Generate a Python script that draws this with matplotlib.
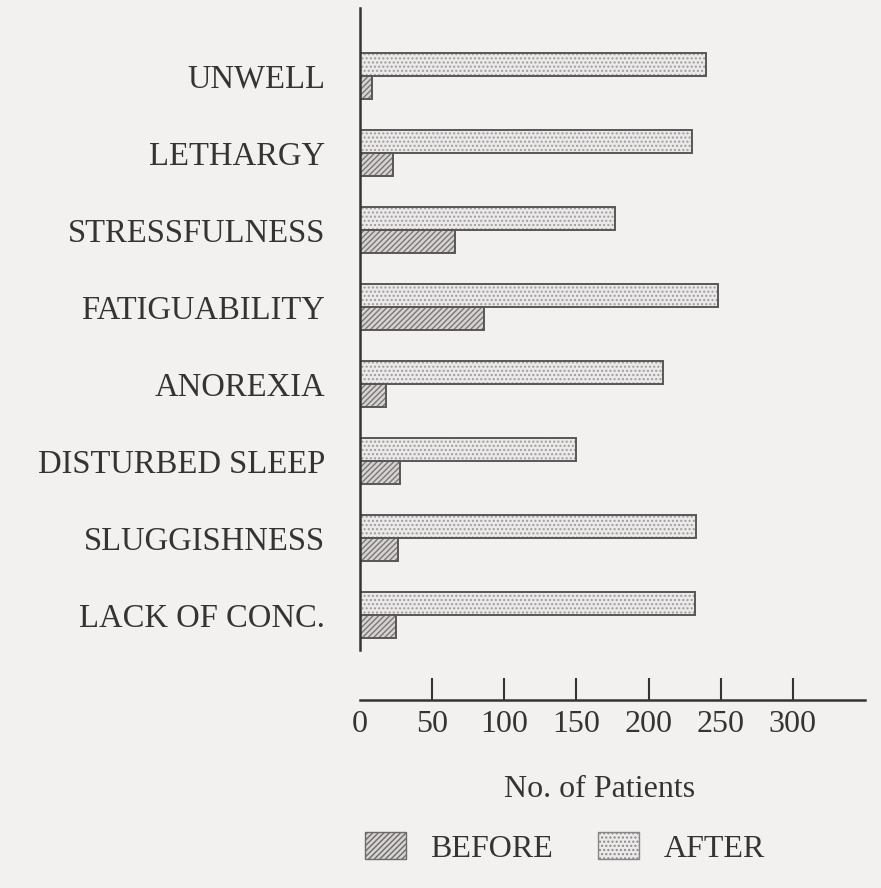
import numpy as np
import matplotlib.pyplot as plt
from matplotlib.patches import Rectangle

# symptoms, top to bottom
symptoms = ["UNWELL", "LETHARGY", "STRESSFULNESS", "FATIGUABILITY",
            "ANOREXIA", "DISTURBED SLEEP", "SLUGGISHNESS", "LACK OF CONC."]
before = [8, 23, 66, 86, 18, 28, 26, 25]
after = [240, 230, 177, 248, 210, 150, 233, 232]
xticks = [0, 50, 100, 150, 200, 250, 300]

ink = "#353333"
paper = "#f3f0f0"
plt.rcParams['font.family'] = ['Liberation Serif', 'DejaVu Serif']

fig = plt.figure(figsize=(8.81, 8.88), dpi=100, facecolor=paper)
ax = fig.add_axes([360 / 881, 1 - 700 / 888, 505 / 881, 692 / 888])
ax.set_facecolor(paper)

y = np.arange(len(symptoms))
h = 0.29

# fill + hatch first, outline on top so the hatch can be lighter than the edge
ax.barh(y - 0.15, after, height=h, color="#ebe9e9", edgecolor="#a09c9c",
        hatch="....", linewidth=0)
ax.barh(y + 0.15, before, height=h, color="#d6d3d3", edgecolor="#7a7676",
        hatch="//////", linewidth=0)
ax.barh(y - 0.15, after, height=h, fill=False, edgecolor="#5a5656", linewidth=1.4)
ax.barh(y + 0.15, before, height=h, fill=False, edgecolor="#5a5656", linewidth=1.4)

ax.set_xlim(0, 350)
ax.set_ylim(8.104, -0.883)
ax.set_yticks(y)
ax.set_yticklabels(symptoms, fontsize=23.5, color=ink)
ax.tick_params(axis='y', length=0, pad=25)

ax.set_xticks(xticks)
ax.set_xticklabels([str(t) for t in xticks], fontsize=23, color=ink)
ax.tick_params(axis='x', direction='in', length=16, width=1.5, color=ink, pad=7)
ax.xaxis.get_major_ticks()[0].tick1line.set_visible(False)

for s in ['top', 'right']:
    ax.spines[s].set_visible(False)
ax.spines['left'].set_bounds(-0.883, 7.455)
ax.spines['left'].set_color(ink)
ax.spines['left'].set_linewidth(1.8)
ax.spines['bottom'].set_color(ink)
ax.spines['bottom'].set_linewidth(1.8)

ax.set_xlabel("No. of Patients", fontsize=23, color=ink)
ax.xaxis.set_label_coords(0.475, -0.108)

handles = [Rectangle((0, 0), 1, 1, facecolor="#d6d3d3", edgecolor="#6e6a6a",
                     hatch="//////", linewidth=1.0),
           Rectangle((0, 0), 1, 1, facecolor="#ebe9e9", edgecolor="#8a8686",
                     hatch="....", linewidth=1.0)]
fig.legend(handles, ["BEFORE", "AFTER"], loc='center', bbox_to_anchor=(0.641, 0.045),
           ncol=2, frameon=False, fontsize=23, labelcolor=ink,
           handlelength=1.3, handleheight=0.9, handletextpad=0.75, columnspacing=1.4)

fig.savefig("out.png", dpi=100, facecolor=paper)
